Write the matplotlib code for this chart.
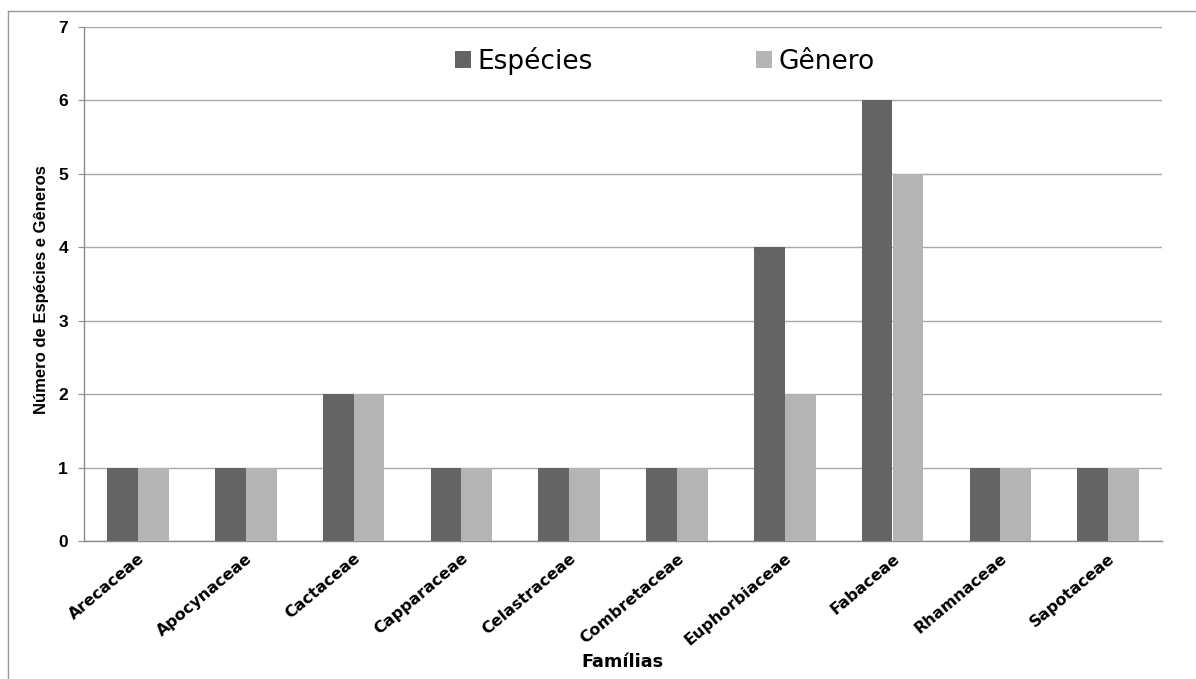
import numpy as np
import matplotlib
matplotlib.use("Agg")
import matplotlib.pyplot as plt
from matplotlib.lines import Line2D

familias = ["Arecaceae", "Apocynaceae", "Cactaceae", "Capparaceae",
            "Celastraceae", "Combretaceae", "Euphorbiaceae", "Fabaceae",
            "Rhamnaceae", "Sapotaceae"]
especies = [1, 1, 2, 1, 1, 1, 4, 6, 1, 1]
generos = [1, 1, 2, 1, 1, 1, 2, 5, 1, 1]

plt.rcParams["font.family"] = ["Liberation Sans", "DejaVu Sans"]

fig = plt.figure(figsize=(11.96, 6.79), dpi=100)
W, H = 1196, 679
# plot area in pixels: left 84, right 1162, top 27, bottom 541
axi = fig.add_axes([84 / W, 1 - 541 / H, (1162 - 84) / W, (541 - 27) / H])

#------------------------------------ grouped bars
xpos = np.arange(len(familias))
bw = 1 / 3.5
axi.bar(xpos - bw / 2, especies, bw, color="#646464", label="Espécies",
        zorder=3)
axi.bar(xpos + bw / 2, generos, bw, color="#b4b4b4", label="Gênero",
        zorder=3)

axi.set_xlim(-0.5, len(familias) - 0.5)
axi.set_ylim(0, 7)
axi.set_yticks(range(0, 8))
axi.yaxis.grid(True, color="#a8a8a8", linewidth=1.0, zorder=0)

for s in ["top", "right"]:
    axi.spines[s].set_visible(False)
for s in ["left", "bottom"]:
    axi.spines[s].set_color("#8c8c8c")
    axi.spines[s].set_linewidth(1.0)

axi.tick_params(axis="y", length=4.5, color="#8c8c8c", pad=7.0,
                labelsize=12.5)
axi.tick_params(axis="x", length=0, pad=7)
for t in axi.get_yticklabels():
    t.set_fontweight("bold")

axi.set_xticks(xpos)
axi.set_xticklabels(familias, rotation=40, ha="right",
                    rotation_mode="anchor", fontweight="bold",
                    family="DejaVu Sans", fontsize=11.5)

fig.text(42 / W, 1 - 290 / H, "Número de Espécies e Gêneros",
         rotation=90, ha="center", va="center", fontsize=12,
         fontweight="bold")
fig.text(622 / W, 1 - 662 / H, "Famílias", ha="center", va="center",
         fontsize=12.7, fontweight="bold", family="DejaVu Sans")

leg = axi.legend(loc="center", bbox_to_anchor=(665 / W, 1 - 61 / H),
                 bbox_transform=fig.transFigure, ncol=2, frameon=False,
                 prop={"family": "DejaVu Sans", "size": 19},
                 handlelength=0.6, handleheight=0.6, handletextpad=0.25,
                 columnspacing=6.2, borderpad=0)

#------------------------------------ outer frame (top and left)
fig.add_artist(Line2D([8 / W, 8 / W], [0, 1 - 11 / H], color="#9a9a9a",
                      linewidth=1.0, transform=fig.transFigure))
fig.add_artist(Line2D([8 / W, 1], [1 - 11 / H, 1 - 11 / H], color="#9a9a9a",
                      linewidth=1.0, transform=fig.transFigure))

fig.savefig("out.png", dpi=100, facecolor="white")
